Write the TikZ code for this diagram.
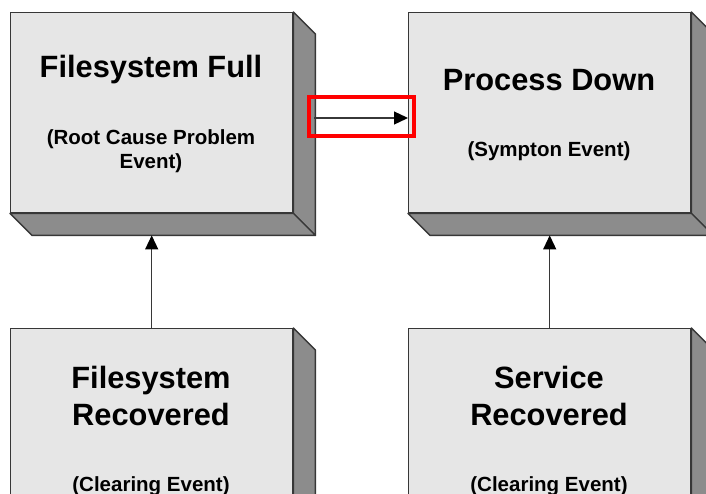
\documentclass[tikz,border=0pt]{standalone}
\usepackage{fontspec}
\setmainfont{Liberation Sans}
\usetikzlibrary{calc,arrows.meta}
\definecolor{faceFront}{RGB}{230,230,230}
\definecolor{faceSide}{RGB}{140,140,140}
\definecolor{edgeDark}{RGB}{55,55,55}
\tikzset{
  x=1pt, y=-1pt,
  eventbox/.style={draw=edgeDark, line width=1.4pt, fill=faceFront,
    minimum width=282pt, minimum height=200pt, inner sep=0pt, anchor=north west},
  depthface/.style={draw=edgeDark, line width=1.4pt, fill=faceSide, line join=round},
  titletext/.style={font=\bfseries\fontsize{30.8}{37}\selectfont, anchor=base, align=center, inner sep=0pt},
  subtext/.style={font=\bfseries\fontsize{20.5}{23.5}\selectfont, anchor=base, align=center, inner sep=0pt},
  link/.style={draw=edgeDark, line width=1.3pt, -{Triangle[length=14pt,width=13pt,color=black]}},
}
\newcommand{\depthsides}[1]{%
  \path[depthface] (#1.north east) -- ++(22,22) -- ($(#1.south east)+(22,22)$) -- (#1.south east) -- cycle;
  \path[depthface] (#1.south west) -- (#1.south east) -- ++(22,22) -- ($(#1.south west)+(22,22)$) -- cycle;
}
\begin{document}
\begin{tikzpicture}
\useasboundingbox (0,0) rectangle (706,493);
\clip (0,0) rectangle (706,493);
\fill[white] (0,0) rectangle (706,493);

% the four event boxes (front faces)
\node[eventbox] (fsfull)   at (10,12)  {};
\node[eventbox] (procdown) at (408,12) {};
\node[eventbox] (fsrec)    at (10,328) {};
\node[eventbox] (svcrec)   at (408,328) {};

% shaded depth faces
\depthsides{fsfull}
\depthsides{procdown}
\depthsides{fsrec}
\depthsides{svcrec}

% labels (base anchor sits on the last line)
\node[titletext] (fsfullT)   at (151,77)  {Filesystem Full};
\node[subtext]   (fsfullS)   at (151,168) {(Root Cause Problem\\Event)};
\node[titletext] (procdownT) at (549,90)  {Process Down};
\node[subtext]   (procdownS) at (549,156) {(Sympton Event)};
\node[titletext] (fsrecT)    at (151,425) {Filesystem\\Recovered};
\node[subtext]   (fsrecS)    at (151,491) {(Clearing Event)};
\node[titletext] (svcrecT)   at (549,425) {Service\\Recovered};
\node[subtext]   (svcrecS)   at (549,491) {(Clearing Event)};

% connectors
\coordinate (hstart) at (314,118);
\draw[link] (hstart) -- (hstart -| procdown.west);
\draw[link] (fsrec.north) -- ($(fsfull.south)+(0,22)$);
\draw[link] (svcrec.north) -- ($(procdown.south)+(0,22)$);

% highlight frame
\node[draw=red, line width=3.8pt, minimum width=105pt, minimum height=39pt, inner sep=0pt] (highlight) at (361.5,116.5) {};
\end{tikzpicture}
\end{document}
